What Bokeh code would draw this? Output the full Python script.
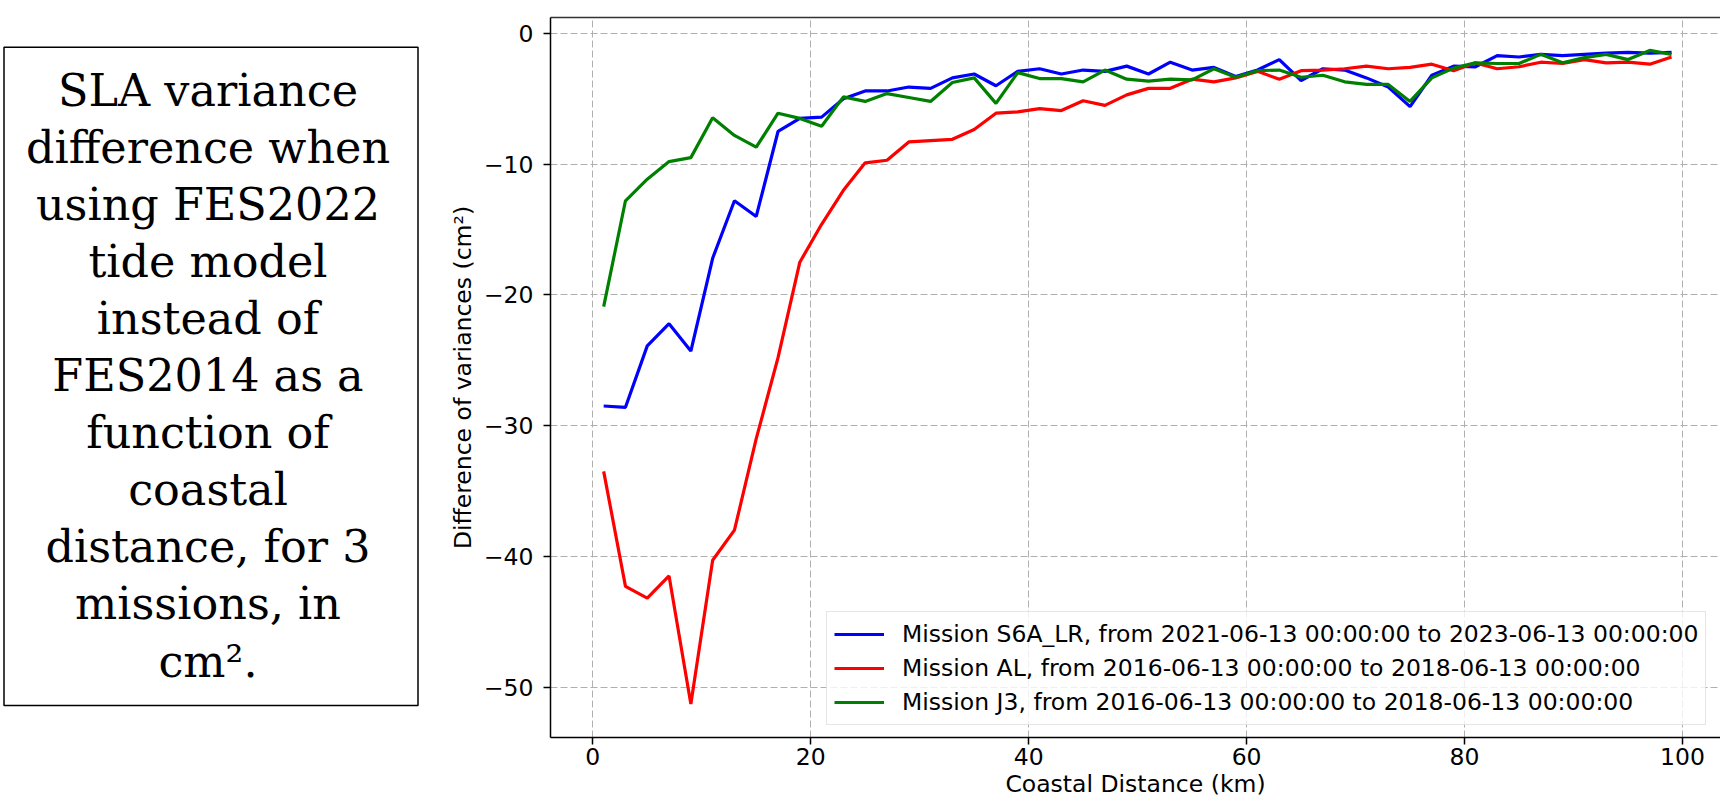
from bokeh.plotting import figure
from bokeh.layouts import row
from bokeh.models import Range1d, FixedTicker, LinearAxis, Legend, LegendItem
from bokeh.core.properties import value
from bokeh.embed import file_html
from bokeh.resources import INLINE

# ---------------- data ----------------
distance_km = [1, 3, 5, 7, 9, 11, 13, 15, 17, 19,
               21, 23, 25, 27, 29, 31, 33, 35, 37, 39,
               41, 43, 45, 47, 49, 51, 53, 55, 57, 59,
               61, 63, 65, 67, 69, 71, 73, 75, 77, 79,
               81, 83, 85, 87, 89, 91, 93, 95, 97, 99]

s6a_lr = [-28.5, -28.6, -23.9, -22.2, -24.3, -17.2, -12.8, -14.0, -7.5, -6.5,
          -6.4, -5.0, -4.4, -4.4, -4.1, -4.2, -3.4, -3.1, -4.0, -2.9,
          -2.7, -3.1, -2.8, -2.9, -2.5, -3.1, -2.2, -2.8, -2.6, -3.3,
          -2.8, -2.0, -3.6, -2.7, -2.8, -3.4, -4.1, -5.6, -3.2, -2.5,
          -2.55, -1.7, -1.8, -1.6, -1.7, -1.6, -1.5, -1.45, -1.5, -1.45]

al = [-33.5, -42.3, -43.2, -41.5, -51.3, -40.3, -38.0, -31.0, -24.8, -17.5,
      -14.6, -12.0, -9.9, -9.7, -8.3, -8.2, -8.1, -7.35, -6.1, -6.0,
      -5.75, -5.9, -5.15, -5.5, -4.7, -4.2, -4.2, -3.5, -3.7, -3.4,
      -2.9, -3.5, -2.85, -2.8, -2.7, -2.5, -2.7, -2.6, -2.35, -2.85,
      -2.25, -2.7, -2.55, -2.2, -2.3, -2.0, -2.25, -2.2, -2.35, -1.8]

j3 = [-20.9, -12.8, -11.15, -9.8, -9.5, -6.45, -7.8, -8.7, -6.1, -6.5,
      -7.1, -4.85, -5.2, -4.6, -4.9, -5.2, -3.75, -3.4, -5.35, -3.0,
      -3.45, -3.45, -3.7, -2.8, -3.5, -3.65, -3.5, -3.55, -2.7, -3.35,
      -2.85, -2.8, -3.35, -3.2, -3.7, -3.9, -3.9, -5.2, -3.4, -2.65,
      -2.25, -2.3, -2.3, -1.6, -2.25, -1.85, -1.6, -2.0, -1.3, -1.6]

series_labels = [
    "Mission S6A_LR, from 2021-06-13 00:00:00 to 2023-06-13 00:00:00",
    "Mission AL, from 2016-06-13 00:00:00 to 2018-06-13 00:00:00",
    "Mission J3, from 2016-06-13 00:00:00 to 2018-06-13 00:00:00",
]
series_colors = ["#0000ff", "#ff0000", "#008000"]

x_ticks = [0, 20, 40, 60, 80, 100]
y_ticks = [0, -10, -20, -30, -40, -50]
y_tick_labels = ["0", "\u221210", "\u221220", "\u221230", "\u221240", "\u221250"]
x_label = "Coastal Distance (km)"
y_label = "Difference of variances (cm\u00b2)"

caption_lines = ["SLA variance", "difference when", "using FES2022", "tide model",
                 "instead of", "FES2014 as a", "function of", "coastal",
                 "distance, for 3", "missions, in", "cm\u00b2."]

# ---------------- layout constants ----------------
H = 805
TW = 420
W = 1300
TOP = 17
BOTTOM = 68
FONT = "DejaVu Sans"
FS = "23.5px"

# ---------------- caption panel ----------------
# the frame spans page rows TOP .. H-BOTTOM, y range set so data units == pixels
pt = figure(width=TW, height=H, x_range=Range1d(0, TW), y_range=Range1d(H - BOTTOM, TOP),
            output_backend="svg", toolbar_location=None,
            min_border_left=0, min_border_right=0, min_border_top=TOP, min_border_bottom=BOTTOM,
            x_axis_location=None, y_axis_location=None)
pt.xgrid.visible = False
pt.ygrid.visible = False
pt.outline_line_color = None
pt.quad(left=[3.5], right=[417.5], top=[46.7], bottom=[705], fill_color=None,
        line_color="black", line_width=1.5)
n = len(caption_lines)
pt.text(x=[207.5] * n, y=[89.5 + i * 57.1 for i in range(n)], text=caption_lines,
        text_font=value("DejaVu Serif"), text_font_size="44.5px",
        text_align="center", text_baseline="alphabetic", text_color="black")

# ---------------- chart ----------------
p = figure(width=W, height=H, x_range=Range1d(-3.88, 103.49), y_range=Range1d(-53.86, 1.22),
           output_backend="svg", toolbar_location=None,
           min_border_left=130, min_border_right=0, min_border_top=TOP, min_border_bottom=BOTTOM)
p.outline_line_color = None
p.background_fill_color = "white"

p.xaxis.ticker = FixedTicker(ticks=x_ticks)
p.yaxis.ticker = FixedTicker(ticks=y_ticks)
p.yaxis.major_label_overrides = {t: l for t, l in zip(y_ticks, y_tick_labels)}
p.xaxis.axis_label = x_label
p.yaxis.axis_label = y_label
for ax in (p.xaxis, p.yaxis):
    ax.major_label_text_font = FONT
    ax.major_label_text_font_size = FS
    ax.major_label_text_color = "black"
    ax.axis_label_text_font = FONT
    ax.axis_label_text_font_size = FS
    ax.axis_label_text_font_style = "normal"
    ax.axis_label_text_color = "black"
    ax.minor_tick_line_color = None
    ax.major_tick_out = 7
    ax.major_tick_in = 0
    ax.major_tick_line_width = 1.5
    ax.major_tick_line_color = "black"
    ax.axis_line_width = 1.5
    ax.axis_line_color = "black"
p.xaxis.major_label_standoff = 3
p.xaxis.axis_label_standoff = 2
p.yaxis.major_label_standoff = 10
p.yaxis.axis_label_standoff = 4

top_axis = LinearAxis(ticker=FixedTicker(ticks=[]), major_tick_out=0, major_tick_in=0,
                      minor_tick_out=0, minor_tick_in=0, major_label_standoff=0,
                      axis_line_color="#333333", axis_line_width=1.5)
p.add_layout(top_axis, "above")

p.grid.grid_line_color = "#b0b0b0"
p.grid.grid_line_width = 1
p.grid.grid_line_dash = "7 3"

items = []
for ys, color, label in zip([s6a_lr, al, j3], series_colors, series_labels):
    r = p.line(distance_km, ys, line_color=color, line_width=3.2)
    items.append(LegendItem(label=label, renderers=[r]))

legend = Legend(items=items, location=(276, 12),
                label_text_font=FONT, label_text_font_size=FS, label_text_color="black",
                glyph_width=50, glyph_height=30, label_height=30, spacing=4,
                padding=7, label_standoff=18, margin=0,
                border_line_color="#cccccc", border_line_width=1,
                background_fill_color="white", background_fill_alpha=0.8)
p.add_layout(legend)

layout = row(pt, p)
open("out.html", "w").write(file_html(layout, INLINE))
